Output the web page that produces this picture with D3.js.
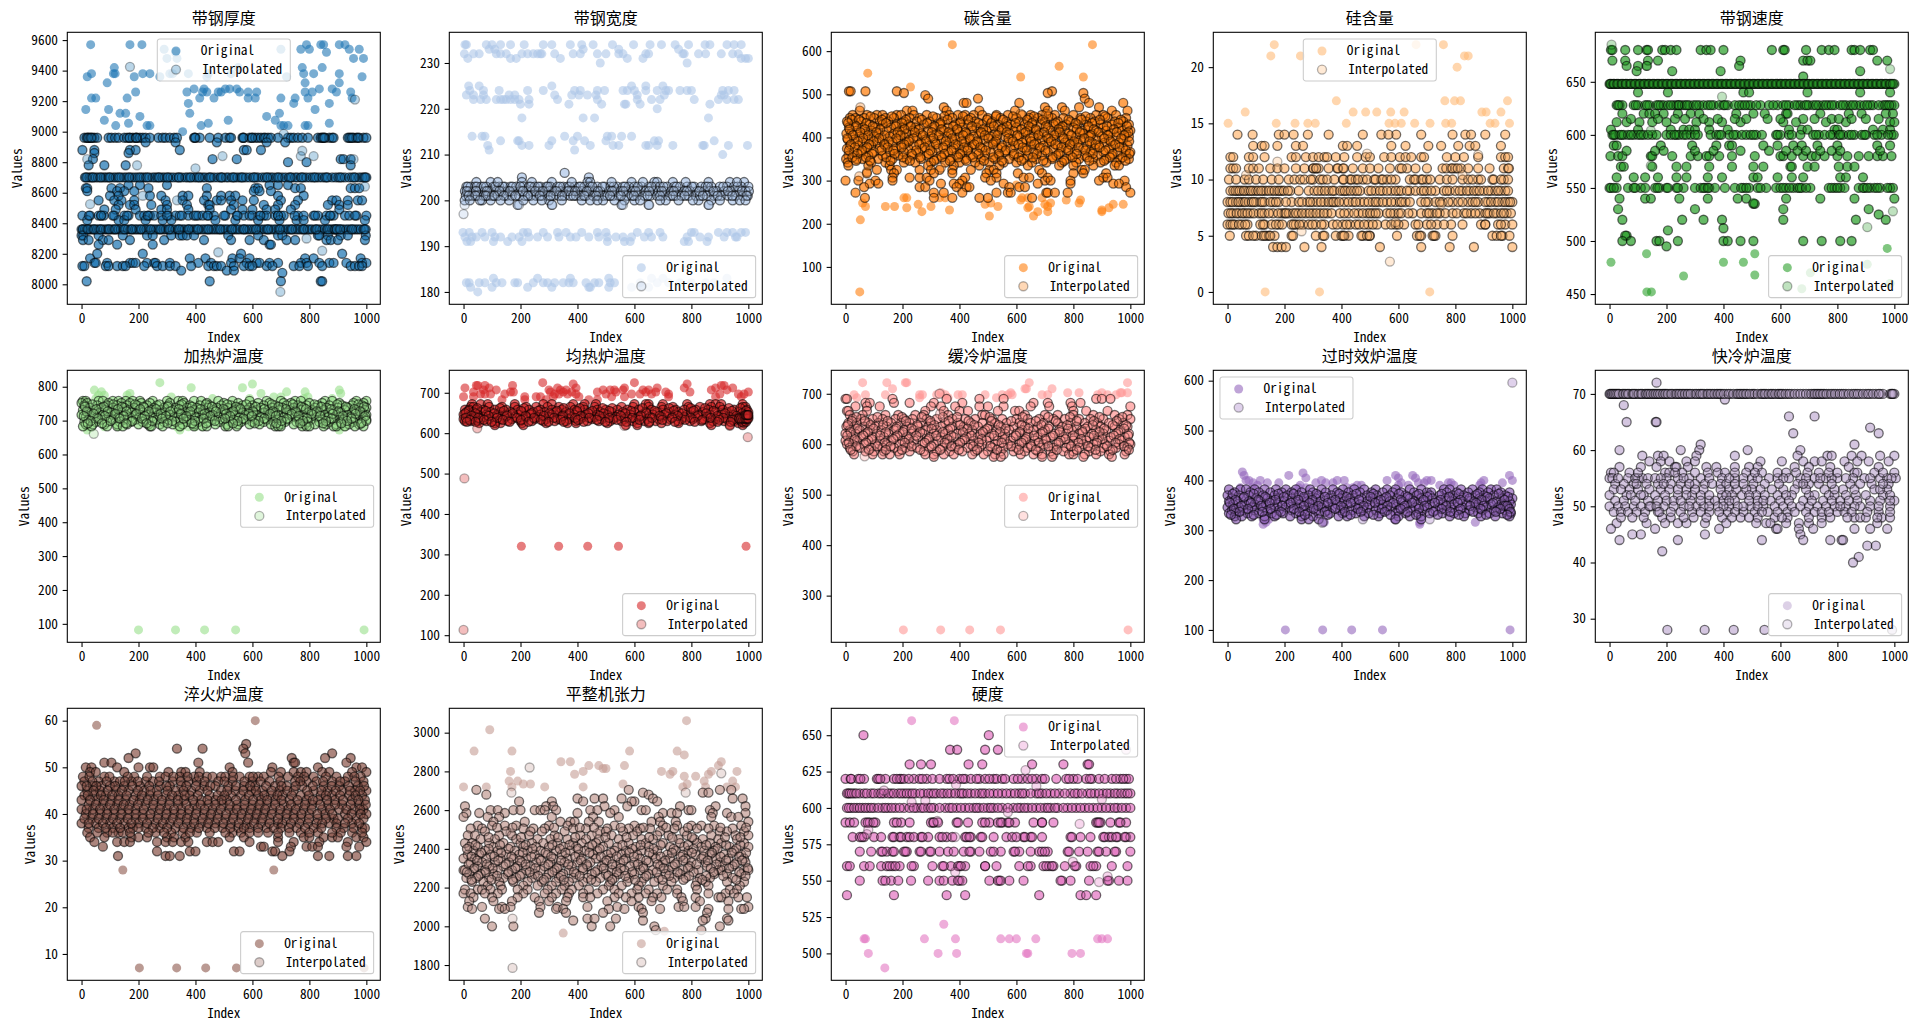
<!DOCTYPE html>
<html><head><meta charset="utf-8">
<script src="https://cdn.jsdelivr.net/npm/d3@7/dist/d3.min.js"></script>
<style>html,body{margin:0;background:#fff}svg{display:block}</style></head><body>
<svg id="chart" width="1923" height="1027"></svg>
<script>
const titles=["带钢厚度","带钢宽度","碳含量","硅含量","带钢速度","加热炉温度","均热炉温度","缓冷炉温度","过时效炉温度","快冷炉温度","淬火炉温度","平整机张力","硬度"];
const colors=["#1f77b4","#aec7e8","#ff7f0e","#ffbb78","#2ca02c","#98df8a","#d62728","#ff9896","#9467bd","#c5b0d5","#8c564b","#c49c94","#e377c2"];
const xTicks=[0,200,400,600,800,1000];
const yTicks=[[8000,8200,8400,8600,8800,9000,9200,9400,9600],[180,190,200,210,220,230],[100,200,300,400,500,600],[0,5,10,15,20],[450,500,550,600,650],[100,200,300,400,500,600,700,800],[100,200,300,400,500,600,700],[300,400,500,600,700],[100,200,300,400,500,600],[30,40,50,60,70],[10,20,30,40,50,60],[1800,2000,2200,2400,2600,2800,3000],[500,525,550,575,600,625,650]];
const legendPlaces=["upper center","lower right","lower right","upper center","lower right","center right","lower right","center right","upper left","lower right","lower right","lower right","upper right"];

// rows: [value,[indices]]
const thickOrig=[[9570,[32,170,212,905,925,790,840,850]],[9540,[290,700,770,800,940,975]],[9520,[860,330]],[9480,[300,335,955,990]],[9420,[115,550,775,845]],[9380,[35,112,118,215,240,310,320,375,445,525,780,815,905]],[9360,[20,185,275,440,720,985]],[9320,[90,785,905]],[9280,[395,430,505,520,545,835,880]],[9260,[190,370,425,440,480,490,555,585,615,785,810,895,945]],[9220,[35,50,160,415,465,585,610,700,750,795,950]],[9185,[375,745,870]],[9145,[15,95,820]],[9120,[135,155,380,695]],[9100,[205,650]],[9075,[80,515,680]],[9055,[165,445,870]],[9040,[120,230,240,420,700,710,725,785,795]],[9000,[355]]];
const thickBoth=[[8960,[10,18,25,30,38,45,55,95,105,118,130,150,160,170,180,190,195,205,215,225,240,270,285,295,310,325,335,395,400,415,450,480,505,520,525,565,570,590,600,610,620,630,640,645,655,665,690,725,735,745,760,775,795,830,840,845,855,870,880,885,935,945,955,965,975,990,1000]],[8930,[225,330,475,650,715]],[8880,[3,45,170,190,345,570,580,630]],[8860,[45,165]],[8820,[40,460,545,910,920,945]],[8780,[25,80,155,945]],[8800,[725,790]],[8700,[12,20,28,34,42,50,58,70,78,85,93,102,112,120,128,140,150,158,170,178,188,197,210,218,226,238,250,258,266,275,284,292,304,312,322,334,344,352,365,373,385,396,405,416,425,434,446,456,466,478,488,496,508,516,528,538,548,558,568,578,590,602,612,620,634,644,655,664,672,684,695,705,716,728,738,750,758,770,780,790,802,812,824,834,845,855,865,880,892,902,914,925,940,950,962,975,985,992,1000]],[8650,[165,205,300,660,690,725]],[8630,[15,20,105,135,235,440,610,620,750,770,945,960,975]],[8610,[20,150,185,125,605,625,665]],[8580,[100,130,240,280,355,375,440,490,520,540,690,780]],[8550,[60,115,140,185,295,355,430,475,490,525,565,605,700,760,880,895,935,970,985]],[8520,[130,170,185,245,300,370,445,450,535,640,690,750,865,905,935]],[8490,[80,120,190,280,300,375,450,525,565,600,650,680,735,905]],[8450,[3,30,60,70,78,115,150,165,205,220,235,240,255,280,305,330,345,375,395,410,425,445,465,505,545,570,590,600,625,640,650,680,690,700,710,760,780,815,830,860,875,885,925,940,965,1000]],[8420,[20,130,150,225,285,315,470,540,620,695,755,780,855,995]],[8360,[0,6,12,18,26,32,40,48,55,62,70,78,86,92,100,108,114,122,130,138,146,155,163,172,180,188,194,202,212,220,228,236,246,254,262,270,280,288,296,304,312,320,330,338,346,354,362,372,380,388,396,404,412,422,430,438,448,456,464,472,480,490,498,506,514,524,532,540,548,556,566,574,582,590,598,606,616,624,632,642,650,658,666,676,684,692,700,708,718,726,734,742,752,760,768,776,784,794,802,810,820,828,836,846,854,862,872,880,886,892,898,904,912,920,930,938,946,956,964,972,980,990,998]],[8320,[0,6,60,145,230,250,315,345,355,370,395,515,620,690,705,830,835,865,910,935,998]],[8290,[5,25,75,95,170,290,430,525,590,640,720,750,860,875,900,995]],[8260,[60,125,250,660,665]],[8200,[55,215,560,915]],[8170,[30,380,435,530,555,590,785,815,980]],[8140,[45,50,90,170,180,190,230,255,260,310,410,455,525,580,615,625,660,690,770,790,835,870,885,930,985,1000]],[8120,[3,10,85,95,125,145,155,220,265,285,310,330,385,445,465,475,490,535,570,590,600,650,670,745,765,795,845,945,960,975,985]],[8090,[350,510,535]],[8075,[705]],[8020,[18,450,700,840,845]]];
const thickExtra=[[8700,[16,39,66,98,133,166,204,231,271,301,341,381,412,451,491,533,563,606,651,690,733,774,818,860,908,957,996]],[8360,[4,22,44,67,96,118,151,176,208,242,276,308,342,376,408,444,486,528,570,612,654,696,738,780,824,866,890,896,908,950,994]],[8450,[26,68,110,160,232,300,352,402,442,500,548,628,690,748,820,872,960]],[8960,[22,34,168,192,398,568,598,848,852,940,950,970]]];
const thickInterp=[[9425,[170]],[8875,[775]],[8840,[495,770,815]],[8820,[20,955]],[8780,[195]],[8760,[400]],[8580,[215]],[8550,[335]],[8525,[30]],[8640,[995]],[8300,[790]],[8220,[845]],[8210,[480]],[7950,[698]],[9210,[960]],[8985,[710]]];

const widthOrig=[[234,[10,5,80,100,130,165,213,280,310,375,415,455,523,597,655,695,743,790,848,865,925,950,975]],[233,[90,110,420,545,755]],[232,[3,35,55,115,130,150,205,225,245,260,270,275,320,385,410,470,500,545,560,640,650,770,775,825,850,905,945,965]],[231,[15,165,185,340,575,630,975,990,1000]],[230,[480,785]],[225,[18,55,310,640,590,700]],[224,[22,70,125,225,280,390,410,470,495,560,575,600,640,680,710,720,760,785,800,910,930,950]],[223,[10,35,70,160,180,320,380,405,435,465,610,705,905,915]],[222,[35,60,80,115,130,140,150,165,180,195,230,330,470,610,660,690,810,895,925,950,965]],[221,[200,230,370,485,565,570,620,865]],[220,[680]],[218,[205,420,460,860]],[214,[30,65,75,355,400,505,520,555,590]],[213,[130,190,195,310,385,425,500,670,685,880]],[212,[85,205,230,300,445,525,545,640,650,680,735,840,845,930,997]],[211,[90,390]],[210,[910]],[193,[-2,20,65,100,210,225,280,330,360,415,470,500,610,650,690,800,810,895,990,975,945,925]],[192,[5,30,45,75,110,130,170,195,230,260,295,335,375,395,440,475,505,535,560,590,635,660,700,785,830,860,915,955,960]],[191,[12,25,105,155,205,505,565,585,775,790,855]],[183,[105,260,375,510,660,700,925]],[182,[10,20,55,75,115,135,180,190,245,280,295,320,350,370,385,430,460,475,515,530,620,680,720,760,800,850,880]],[181,[25,100,225,310,440,445,510,590,650]],[180,[50]]];
const widthBoth=[[206,[355]],[205,[205,440]],[204,[45,95,205,240,310,435,445,590,670,680,735,860,935,985]],[203,[10,25,40,62,80,105,125,145,165,185,210,230,250,270,290,305,330,350,365,390,405,425,445,470,495,515,540,560,580,600,625,650,675,690,715,740,760,785,810,835,850,870,900,925,950,975,1000]],[202,[5,20,35,55,75,90,115,135,155,175,200,220,240,265,285,300,320,340,360,380,400,415,440,460,480,510,530,550,570,595,615,640,665,685,705,730,750,775,795,820,845,865,890,915,940,965,990]],[201,[8,30,50,70,85,100,120,150,170,195,215,235,255,275,295,315,335,355,375,395,410,430,455,475,490,505,525,545,575,590,610,635,655,680,700,725,745,765,790,815,830,855,880,905,930,955,980,998]],[200,[4,65,95,160,245,300,415,490,530,565,600,710,825,870,945]],[199,[190,310,555,650,860]]];
const widthExtra=[[203,[15,47,71,112,138,172,199,236,262,296,339,372,411,452,488,527,567,612,660,702,748,802,858,912,962]],[202,[12,44,82,126,162,208,252,278,326,368,392,433,472,522,560,604,652,696,738,784,828,878,928,978,1002]],[201,[18,42,78,108,142,182,226,268,306,346,386,424,466,514,552,598,646,690,736,776,840,892,944,994]],[200,[22,58,130,210,275,345,445,470,620,690,755,805,900,970,990]],[204,[120,380,520,630,780,960]]];
const widthInterp=[[197,[0]],[199,[4,195,312,560,652,862]]];

const carbonOrig=[[615,[375,867]],[565,[750]],[549,[78]],[540,[615,835]],[517,[228]],[290,[600]],[260,[205,215,330,350,620,640,690]],[255,[615,775,825]],[248,[60,510,720,820]],[245,[255,490,700,940,975]],[240,[70,140,172,300,535,645,710]],[237,[215,640,925]],[232,[365,900]],[228,[268,675,710,900]],[218,[505,660]],[209,[52]],[42,[50]]];
const carbonBoth=[[507,[12,18,70,180,725]],[503,[205,710,835]],[498,[280]],[490,[290,465,840]],[480,[415,425,610,855,975]],[470,[345,700,760,890,820]],[462,[50,215,235,355,470,595,710,770,935,990]],[452,[25,75,110,130,180,195,240,285,365,395,420,450,480,530,570,620,650,690,735,800,880,905,950]],[445,[15,35,65,100,140,170,225,260,320,375,440,500,545,600,645,675,725,765,825,860,920,985]],[437,[5,55,120,150,205,250,295,340,405,455,515,565,610,660,700,745,790,845,875,945,975]],[430,[30,85,130,180,220,275,330,385,430,480,535,580,630,685,730,775,815,895,935,995]],[423,[12,60,105,160,200,245,305,360,410,460,505,555,600,650,710,755,800,850,905,960]],[416,[40,90,145,190,235,290,345,395,445,495,540,590,640,670,720,770,830,880,915,970,1000]],[409,[3,20,70,115,170,215,265,320,370,425,470,525,575,625,680,740,785,835,865,930,985]],[402,[50,100,155,205,250,300,355,400,450,510,560,610,660,705,760,810,855,900,950,995]],[395,[8,30,80,130,185,225,280,335,385,435,485,530,585,635,690,730,780,825,880,925,975]],[388,[60,110,165,215,265,315,365,420,465,520,570,620,670,715,770,815,865,910,960]],[381,[15,45,90,140,195,240,295,350,395,445,500,550,595,650,695,745,795,850,890,940,990]],[374,[5,70,120,175,220,270,325,380,430,480,535,580,630,680,730,775,835,875,925,975]],[366,[30,55,100,155,205,255,305,360,410,460,510,560,615,660,710,755,805,860,905,955,1000]],[358,[10,80,130,185,235,285,335,390,440,490,540,590,640,690,740,790,840,885,935,985]],[350,[2,40,60,115,165,215,265,320,370,420,475,525,575,625,670,725,775,820,870,915,965,995]],[342,[8,90,140,205,245,300,350,400,455,505,555,600,655,705,760,810,895,950]],[335,[10,80,155,290,380,470,540,640,750,800,870,945,960]],[325,[110,160,180,260,300,330,375,440,505,520,680,830,840]],[317,[75,170,310,375,495,530,605,690,800,835,915]],[307,[165,225,260,285,420,490,530,625,645,710,905,920]],[300,[0,45,105,165,295,410,510,700,720,790,890,980]],[293,[85,115,335,380,400,555,675,790,940,960]],[285,[65,260,280,390,425,435,575,610,630,985]],[272,[35,310,345,410,530,570,580,705,710,735,780,1000]],[260,[68,310,375,470,500,655]]];
const carbonExtra=[[449,[88,162,307,347,412,528,588,662,712,843,912]],[441,[22,47,128,212,268,358,431,497,553,638,692,783,828,893,967]],[433,[9,73,142,198,287,333,402,467,512,597,655,738,808,866,958]],[426,[37,96,176,229,312,378,444,521,567,643,703,762,853,918,988]],[419,[14,68,122,207,258,337,392,483,548,617,668,748,812,872,942]],[412,[52,108,183,243,303,362,421,476,566,632,697,752,823,888,952,993]],[405,[26,79,137,193,272,328,413,489,533,603,677,733,792,861,922,979]],[398,[6,62,118,178,238,308,374,437,502,572,648,712,766,838,908,968]],[391,[43,98,152,222,283,352,408,462,527,588,652,722,803,857,931,996]],[384,[19,83,136,206,259,318,386,452,517,607,663,737,788,878,947]],[377,[33,76,148,197,278,343,417,473,548,622,683,758,818,892,962]],[370,[12,58,126,168,248,298,372,428,492,562,636,702,782,842,913,984]],[362,[42,93,172,232,292,347,403,467,538,592,672,748,812,868,938,997]],[354,[24,72,143,202,262,338,396,447,518,608,658,727,797,848,928,972]],[346,[37,86,158,226,311,366,424,486,549,618,694,768,856,908,983]]];
const carbonInterp=[[470,[52]],[320,[75]],[310,[48]],[330,[335]],[455,[705,615]]];

const siOrig=[[22,[164,662,758]],[21,[152,256,832,845]],[20,[806]],[17,[382,763,797,818,983]],[16,[62,441,485,524,573,620,893,908,960]],[15,[2,171,237,282,308,417,567,588,610,657,711,766,787,922,939,990]],[0,[132,323,710]]];
const siBoth=[[14,[35,88,180,200,232,282,355,475,592,540,565,680,790,835,855,905,975]],[13,[90,120,130,175,240,265,405,420,455,575,625,705,750,810,850,870,960]],[12,[10,20,75,90,130,225,240,275,300,320,340,350,380,410,455,485,500,550,575,605,625,645,680,690,770,800,830,880,960,975,985]],[11,[10,20,30,75,90,110,150,175,200,240,270,300,310,320,355,385,405,440,475,500,530,570,605,630,660,700,755,785,800,820,845,880,920,970,985]],[10,[5,30,60,75,100,125,155,180,215,235,255,270,300,325,335,350,375,405,430,450,475,490,515,540,560,590,640,655,680,700,745,770,790,825,845,880,890,930,970,985]],[9,[10,20,35,50,65,75,90,100,125,135,155,175,190,220,250,285,305,330,355,375,405,420,445,465,495,520,545,575,600,640,660,680,700,730,760,780,800,825,850,875,900,925,940,960,975]],[8,[0,10,30,45,55,75,100,115,130,160,180,225,250,280,300,315,340,365,380,410,440,465,480,510,530,560,590,605,625,680,705,730,755,790,810,845,860,880,915,940,965,985,1000]],[7,[3,20,40,60,80,110,130,160,190,200,215,230,250,275,300,325,350,395,425,460,490,510,530,560,585,600,650,680,720,745,765,790,830,855,885,905,920,945,980,995]],[6,[0,10,25,50,70,115,130,155,180,225,240,265,285,310,340,370,405,430,450,495,525,555,590,620,660,700,735,785,825,890,905,950,975,1000]],[5,[8,65,75,100,120,135,145,165,225,310,335,380,400,425,475,500,595,665,680,720,730,790,930,945,965,990]],[4,[160,175,190,205,270,330,535,680,780,865,1000]]];
const siExtra=[[11,[302,312,388,408,612,768,790,808,988]],[10,[292,408,435,458,520,545,575,660,685,712,860,935,960]],[9,[28,42,58,82,108,118,145,165,182,198,212,318,342,368,395,412,432,455,505,535,560,590,610,630,690,715,770,815,840,865,885,915,950,985]],[8,[18,38,62,85,92,122,150,170,205,262,290,328,355,372,392,425,450,495,520,545,575,612,640,695,745,775,825,870,905,925,950,975,992]],[7,[12,32,52,70,92,120,145,178,205,240,262,288,312,338,365,410,445,475,500,520,572,610,635,700,708,735,805,840,870,912,935,960,970]],[6,[18,40,62,125,170,192,232,252,298,330,385,418,462,480,510,575,600,670,715,760,905,960]],[5,[90,128,150,230,340,405,410,470,490,498,675,725,960]]];
const siInterp=[[2.7,[570]],[11.6,[175]],[5.4,[260]],[6.2,[590]],[12.2,[880]],[10.4,[65,825]],[12.3,[490]],[7.8,[750]]];

const speedOrig=[[493,[975]],[488,[130,510]],[480,[5,400,470]],[478,[905]],[470,[705]],[467,[260]],[468,[510]],[460,[985]],[455,[675]],[452,[131,147]]];
const speedBoth=[[680,[5,10,55,100,130,135,185,195,215,235,320,340,355,400,570,610,615,690,745,770,790,850,860,880,915,925]],[670,[10,55,135,170,460,680,695,705,940,975]],[665,[130,455,60,100]],[660,[95,220,390,880]],[655,[680]],[648,[0,6,12,18,25,32,40,48,55,62,70,78,86,94,102,110,118,126,134,142,150,158,166,174,182,190,198,206,214,222,230,238,246,254,262,270,278,286,294,302,310,318,326,334,342,350,358,366,374,382,390,398,406,414,422,430,438,446,454,462,470,478,486,494,502,510,518,526,534,542,550,558,566,574,582,590,598,606,614,622,630,638,646,654,662,670,678,686,694,702,710,718,726,734,742,750,758,766,774,782,790,798,806,814,822,830,838,846,854,862,870,878,886,894,902,910,918,926,934,942,950,958,966,974,982,990,1000]],[640,[100,205,470,490,695,880,985]],[628,[25,35,45,85,100,125,140,165,180,190,205,225,235,245,255,265,280,295,315,330,345,365,385,400,415,440,465,485,495,530,560,590,610,630,660,670,685,700,715,735,750,770,790,810,830,845,865,880,895,915,925,960,975,990,1000]],[620,[45,120,140,160,190,240,285,315,445,505,545,620,625,740,840,885,970,995]],[612,[25,60,105,150,200,305,350,395,460,610,655,760,830,985,1000]],[605,[5,100,215,260,280,300,350,415,630,675,695,790,800,925,960,985]],[600,[10,20,35,50,65,85,100,120,150,165,200,215,235,245,260,285,310,355,375,385,420,445,465,480,495,515,535,585,600,630,670,715,735,755,785,805,820,840,860,885,900,930,955,990,998]],[590,[15,25,180,290,375,420,430,540,590,645,675,730,800,940,985]],[580,[3,30,45,145,150,220,285,310,340,350,385,430,510,600,610,640,680,710,725,755,800,835,875,910,940,960,990]],[570,[40,50,150,235,270,350,430,505,540,635,640,695,720,805,835,860]],[560,[25,85,125,170,235,270,345,395,505,520,590,640,680,810,830,890]],[550,[0,5,25,65,85,110,125,160,175,200,205,235,260,300,320,335,350,370,405,440,470,490,520,550,585,600,620,645,660,675,705,770,790,810,825,875,895,915,930,950,985,995]],[540,[35,125,145,245,345,450,480,620,740,860,1000]],[535,[505,510]],[530,[30,300,610,910]],[525,[945]],[520,[45,255,330,395,610,865,970]],[512,[400]],[505,[60,55]],[500,[45,75,165,175,240,400,415,460,505,680,745,810,850]],[510,[205]],[495,[200]]];
const speedExtra=[[648,[3,15,28,44,58,74,90,106,122,138,154,170,186,202,218,234,250,266,282,298,314,330,346,362,378,394,410,426,442,458,474,490,506,522,538,554,570,586,602,618,634,650,666,682,698,714,730,746,762,778,794,810,826,842,858,874,890,906,922,938,954,970,986,995]],[628,[30,92,132,172,215,242,272,305,355,405,455,475,515,575,620,650,692,725,760,780,820,855,905,945,968,982]],[600,[15,42,75,110,135,228,270,300,392,435,505,590,640,725,775,810,850,895,940,978]],[550,[15,90,168,240,330,345,462,480,530,610,632,668,690,780,800,890,905,940,975]],[585,[60,160,190,300,365,460,560,620,660,690,740,780,810,950]],[615,[75,170,230,265,330,380,440,480,555,600,680,720,780,805,850,900,945]]];
const speedInterp=[[685,[7]],[662,[985]],[665,[132]],[636,[395]],[604,[145]],[571,[145]],[536,[505]],[528,[995]],[513,[905]]];

const heatOrig=[[812,[275]],[808,[600]],[797,[385,565]],[790,[45,905]],[785,[70,720,785]],[780,[170,630,910]],[775,[60,160,80]],[770,[315,675,700,795]],[765,[50,460,590,780,880]],[682,[20,80,130,335,345,350,375,400,425,905,925]],[672,[20,345,905]],[82,[200,330,432,541,992]]];
const heatBoth=[[758,[5,15,60,75,110,130,155,180,205,250,300,340,355,395,420,480,530,590,650,700,750,770,855,880,965,1000]],[752,[0,20,95,140,170,210,240,310,360,440,500,550,620,660,710,735,800,845,905,955,990]],[745,[10,55,90,125,160,195,230,265,305,345,380,415,450,490,525,565,600,640,680,720,760,790,830,870,915,950,985]],[738,[30,70,110,150,185,220,255,290,330,370,405,445,475,515,555,590,630,670,705,745,780,820,860,900,935,975,1000]],[731,[5,45,85,120,165,200,245,280,320,355,395,430,465,505,540,580,615,655,695,730,770,810,850,885,925,965,995]],[724,[20,65,105,140,175,215,255,295,335,375,410,450,490,525,565,605,640,680,720,755,795,835,870,910,950,985]],[717,[0,35,75,115,155,190,230,270,310,350,385,425,460,500,540,575,615,655,690,730,775,815,855,895,935,970,1000]],[710,[15,55,95,130,170,205,245,285,325,365,400,440,480,515,555,595,630,665,710,750,785,825,865,905,945,990]],[703,[25,70,110,150,190,225,265,305,345,380,420,460,495,535,575,610,650,690,725,765,805,845,885,920,960,1000]],[696,[10,50,90,135,175,215,250,290,330,370,410,445,485,525,560,600,640,675,715,755,795,835,870,910,955,985]],[689,[15,40,80,125,160,200,235,275,320,355,395,470,510,550,590,625,665,700,745,785,820,860,895,940,975]],[683,[5,35,90,125,145,240,245,285,345,395,425,440,505,515,545,680,690,700,775,790,800,850,885,895,925,960,990]]];
const heatExtra=[[748,[38,112,188,274,352,437,512,578,668,742,818,898,972]],[741,[12,78,142,218,302,388,458,542,612,692,772,842,928,992]],[734,[52,128,206,262,342,418,498,558,642,718,788,876,958]],[727,[18,92,158,236,312,382,472,532,602,672,752,826,902,978]],[720,[42,118,192,278,348,432,508,588,662,738,808,882,962]],[713,[8,82,148,222,296,368,452,522,598,682,762,838,918,996]],[706,[58,134,212,282,358,428,504,568,642,722,792,878,948]],[699,[32,102,178,248,318,398,468,548,622,702,778,858,932,1000]],[692,[22,72,156,228,302,388,438,532,608,684,768,848,912,982]]];
const heatInterp=[[661,[43]]];

const soakOrig=[[725,[278,600]],[722,[385,785]],[718,[45,50,75,172,905,915]],[712,[5,90,330,395,565,680,775,885,945]],[707,[70,115,300,340,360,490,515,530,560,630,650,925,870]],[702,[35,165,175,305,350,380,470,535,640,675,710,795,1000]],[697,[60,75,95,145,320,335,365,395,500,590,620,660,720,900,965,985]],[690,[0,35,215,255,270,315,405,520,565,720,885,975]],[683,[215,135,290,440,470]],[320,[203,334,436,544,992]]];
const soakBoth=[[672,[30,60,85,180,280,310,385,425,465,600,640,650,700,785,865,885,905,980]],[665,[25,35,90,135,180,220,255,295,335,375,420,460,555,595,650,695,735,790,830,870,900,980,990]],[658,[5,20,45,70,110,150,190,230,270,310,345,390,425,470,500,540,575,615,660,700,745,775,815,860,910,950,995]],[652,[10,35,60,95,130,165,205,245,285,325,360,400,445,480,520,560,600,640,680,720,755,800,840,885,925,965,1000]],[646,[0,25,50,80,120,155,195,235,270,310,350,390,430,470,505,545,585,625,665,705,745,785,825,865,905,945,985]],[640,[15,40,70,105,145,180,220,260,300,340,380,420,460,495,535,575,615,655,695,735,775,815,855,895,935,975,1000]],[635,[0,30,60,90,130,170,210,250,290,330,370,410,450,485,525,565,605,645,685,725,765,805,845,885,925,960,990]],[630,[5,25,50,80,115,155,200,240,280,320,360,395,435,475,515,555,595,635,675,715,755,795,835,875,915,950,985]],[625,[55,110,130,205,290,365,395,505,610,650,695,755,865,965,985]],[620,[110,210,570,610,870,935,980]]];
const soakExtra=[[662,[48,128,212,352,408,488,522,628,722,798,848,932,972]],[655,[18,78,142,202,262,328,398,452,512,588,672,738,808,878,942,992]],[649,[6,42,108,172,238,302,372,438,492,568,642,712,768,852,918,978]],[643,[28,88,152,218,282,348,412,478,552,622,688,752,822,892,958,996]],[638,[8,52,118,188,248,318,392,442,512,592,662,732,798,868,912,968]],[633,[22,72,138,202,272,342,402,468,538,618,698,778,838,898,945,972,995]],[628,[12,42,98,162,228,298,352,422,498,572,652,742,812,892,938,978,992]],[636,[968,975,982,988,992,996,1000]],[645,[990,994,998,1000]]];
const soakInterp=[[590,[998]],[488,[3]],[113,[0]],[612,[48]],[618,[565,935]]];

const slowOrig=[[722,[60,145,210,215,645,990]],[710,[165,635,725,630]],[702,[900,780,820,580,970,990,335,965]],[698,[30,70,140,260,270,320,350,395,410,490,550,570,585,690,710,885,920,950]],[692,[40,260,360,530]],[232,[203,334,436,544,992]]];
const slowBoth=[[690,[0,5,165,355,470,555,880,900,930]],[682,[70,85,170,225,310,410,660,710,790,825]],[675,[35,75,120,300,335,385,470,500,555,650,715,795,1000]],[666,[5,10,75,280,345,400,430,535,595,610,800,845,920]],[658,[15,60,140,185,245,275,360,480,490,630,700,745,800,870,945,990]],[650,[25,55,95,130,175,205,235,285,320,375,420,455,515,550,600,640,680,730,770,820,860,905,960,1000]],[642,[10,40,80,115,160,195,225,265,300,350,395,440,480,525,565,610,650,695,745,790,840,885,925,975]],[635,[3,30,65,105,145,180,215,255,290,335,375,415,465,505,545,590,630,675,715,760,810,850,895,945,990]],[628,[15,50,85,125,170,205,240,280,320,360,405,445,490,530,575,620,660,700,750,795,830,880,915,965]],[621,[0,35,70,110,150,190,230,270,310,350,390,435,475,515,560,600,640,685,735,775,820,865,905,950,995]],[614,[20,55,95,135,175,215,255,295,335,380,425,465,505,550,590,635,675,720,765,805,855,890,930,980]],[607,[0,40,80,120,160,200,240,285,325,365,410,450,495,535,580,625,665,705,755,800,845,885,925,970]],[600,[5,25,65,105,145,190,225,270,310,355,395,440,480,525,570,610,650,695,740,785,835,870,910,960,1000]],[593,[15,50,90,130,170,210,250,295,340,385,430,470,515,555,600,640,685,730,775,820,860,905,950,990]],[586,[25,70,100,135,185,225,275,320,365,410,455,500,545,590,630,675,720,765,800,855,895,930,985]],[580,[30,95,130,155,190,280,310,345,380,445,485,525,555,615,660,690,730,785,800,840,880,925,980]],[575,[310,520,545,690,725,835,935]]];
const slowExtra=[[654,[38,112,198,268,342,392,506,622,712,788,892,972]],[646,[22,68,148,212,298,362,432,512,582,668,738,812,872,952]],[638,[8,88,132,252,312,402,452,538,618,688,778,868,938,985]],[631,[42,98,178,232,302,368,428,498,562,642,712,782,842,908,978]],[624,[18,78,142,202,262,342,412,482,542,612,692,752,832,892,958]],[617,[6,62,122,182,248,318,372,442,522,598,662,728,798,872,942,992]],[610,[32,92,168,222,292,358,418,478,558,632,702,772,828,902,962]],[603,[12,72,138,208,278,348,402,468,548,618,678,748,818,882,948,996]],[596,[38,112,158,232,302,372,448,508,582,652,712,792,852,918,978]],[589,[18,82,142,198,262,332,398,462,532,608,668,742,812,878,938,995]]];
const slowInterp=[[576,[67]],[660,[332]],[700,[330]]];

const agingOrig=[[417,[52]],[415,[265]],[410,[58,215,590,650,990]],[405,[600,660,275]],[400,[65,75,115,330,385,410,560,700,715,1000,900]],[395,[90,140,180,310,345,370,610,670,690,775,785,890,965]],[390,[105,255,470,455,600,635,745,795,885]],[385,[45,85,250,275,420,440]],[322,[125,145,585]],[316,[135,340,870,675]],[312,[675,125]],[100,[203,334,436,544,992]]];
const agingBoth=[[382,[5,45,65,95,130,170,205,240,290,330,370,405,445,480,520,560,590,640,680,760,780,820,860,895,925,945]],[376,[25,80,110,150,190,225,260,300,345,385,425,465,505,545,580,610,655,700,715,770,805,845,885,915,960,990]],[370,[0,40,75,125,165,210,250,285,320,365,405,440,490,525,570,625,665,710,745,790,830,870,900,935,975]],[364,[15,55,100,140,180,225,270,310,355,395,430,470,510,550,595,640,680,720,765,800,850,885,920,965,1000]],[358,[5,35,75,115,155,200,240,280,325,365,410,445,490,530,570,615,655,695,740,785,825,865,905,945,990]],[352,[20,60,95,135,175,215,255,300,340,385,420,465,500,545,590,630,670,710,755,795,840,880,925,960,995]],[346,[0,40,85,125,165,205,245,290,330,370,405,450,490,530,575,615,660,700,745,785,825,870,910,950,985]],[340,[15,55,95,140,180,225,265,310,350,395,435,475,520,560,600,645,685,730,770,810,850,895,935,975]],[334,[5,30,70,110,155,195,240,280,320,360,405,450,495,535,590,625,670,710,755,795,835,880,920,965,995]],[328,[25,50,85,130,165,220,260,300,390,420,480,530,600,640,680,780,830,890,940,990]],[322,[30,130,260,285,320,590,680]]];
const agingExtra=[[373,[18,92,178,232,312,392,452,512,602,672,752,812,878,952]],[367,[58,132,198,268,342,418,502,558,632,702,778,842,912,985]],[361,[28,108,168,248,298,378,462,538,608,688,748,818,892,972]],[355,[8,82,148,222,288,352,432,518,582,648,728,808,872,932]],[349,[48,118,192,268,318,398,478,562,622,692,768,852,898,968,975,982]],[343,[22,72,152,232,302,378,458,542,608,672,752,818,888,958,990]],[337,[42,122,188,252,342,412,468,552,632,722,782,862,942,994]],[331,[12,92,172,272,352,432,512,572,662,738,812,908,982]]];
const agingInterp=[[596,[1000]],[317,[335]],[322,[475,590,710]],[315,[333]]];

const quickOrig=[];
const quickBoth=[[72,[165]],[70,[0,6,12,18,24,30,36,44,52,62,70,78,90,96,108,116,124,132,140,150,158,166,174,184,192,200,212,222,230,240,250,260,270,280,292,300,312,322,332,340,350,362,375,385,395,410,425,445,455,465,475,485,500,505,510,530,540,550,565,575,590,600,610,625,640,660,680,700,715,725,735,745,755,770,785,800,815,830,850,865,880,900,915,935,950,960,985,992,1000]],[69,[405]],[68,[50]],[66,[630,720]],[65,[60,162,165]],[64,[915]],[63,[645,945]],[61,[320,860]],[60,[35,250,315,485,670]],[59,[115,170,190,305,440,660,765,780,850,885,950,1000]],[58,[140,180,210,270,300,530,605,680,720,745,825,870,910,980]],[57,[35,110,165,230,235,275,340,375,440,490,520,650,700,775,840,945]],[56,[5,15,70,195,210,255,345,380,405,480,535,620,695,735,860,870,930,1000]],[55,[0,10,65,100,115,135,160,200,240,280,320,395,440,470,500,560,590,630,670,720,760,800,855,895,950,975,1005]],[54,[20,50,85,130,170,215,250,300,335,390,410,505,545,660,700,735,845,920,980]],[53,[15,70,140,180,210,270,330,420,445,500,530,610,650,755,820,930,975]],[52,[0,60,75,120,195,240,290,320,395,430,465,515,590,640,700,770,790,865,960,985]],[51,[20,50,135,200,225,285,350,370,400,440,520,565,600,680,750,810,870,915,950,1000]],[50,[0,30,55,85,110,145,190,225,260,305,330,380,420,450,495,540,580,610,700,730,790,830,880,915,985]],[49,[15,40,65,95,125,170,250,290,350,415,470,510,555,625,690,720,800,825,945]],[48,[80,185,215,295,395,460,520,580,625,745,775,860,880,900,955,985]],[47,[25,130,195,240,270,335,410,515,550,565,620,665,700,745,940]],[46,[5,160,385,585,590,665,715,860,915,975]],[45,[80,110,335,670]],[44,[35,240,535,680,775,815,820]],[43,[905,935]],[42,[185]],[41,[875]],[40,[855]],[28,[203,334,436,544,992]]];
const quickExtra=[[70,[3,9,15,21,27,33,48,57,66,82,86,102,112,128,136,145,154,162,170,178,188,196,205,217,235,245,255,265,275,285,305,318,327,345,356,368,380,390,402,418,435,450,460,470,480,492,520,535,545,558,570,582,595,605,618,632,650,670,690,708,720,730,740,750,762,778,792,808,822,840,858,872,890,908,925,945,990,995]],[55,[30,90,180,260,350,420,520,610,690,740,780,830,915,990]],[53,[40,100,240,300,390,480,570,690,790,860,950]],[52,[110,160,270,350,410,490,545,620,720,830,900]],[51,[90,170,250,320,420,490,540,630,710,780,840,985]],[50,[140,165,280,350,400,470,520,640,670,760,810,860,945]],[49,[175,215,320,385,440,535,590,650,745,770,850,905,985]],[54,[95,190,280,360,440,470,595,680,780,880,960]],[48,[40,120,260,340,430,490,605,700,835,940]],[56,[100,230,300,440,510,590,655,770,800,960]]];
const quickInterp=[];

const quenchOrig=[[60,[610]],[59,[53]],[28,[145,675]],[7,[203,334,436,544,992]]];
const quenchBoth=[[55,[578]],[54,[335,425,568]],[53,[190,880,575]],[52,[165,738,855,945]],[51,[80,105,410,585,745,750,930]],[50,[15,35,125,200,240,252,520,670,830,965,985]],[49,[30,50,150,305,350,365,415,530,665,700,745,770,790,845,870,950,1000]],[48,[5,80,185,275,295,345,395,440,460,490,505,555,590,620,640,725,760,815,895,935,980]],[47,[10,60,115,135,175,225,250,320,375,405,480,530,600,660,750,790,825,880,925,990]],[46,[0,40,70,100,150,205,275,310,350,430,470,515,570,610,680,720,775,850,905,970]],[45,[20,65,120,165,220,265,330,385,415,490,540,595,635,695,745,815,865,915,960,1000]],[44,[10,45,85,130,190,240,295,340,380,450,525,560,620,665,705,770,840,880,940,985]],[43,[0,55,105,155,205,255,310,360,420,470,510,575,630,680,730,790,830,890,950,995]],[42,[25,75,125,170,225,280,340,395,445,495,545,600,650,710,760,810,865,915,975]],[41,[0,40,90,140,190,250,300,350,405,460,520,570,620,670,725,780,845,905,955,990]],[40,[15,65,115,165,215,270,325,375,430,480,535,590,640,695,745,800,855,925,1000]],[39,[35,85,135,190,240,295,345,395,450,505,560,610,660,720,770,830,885,900,965]],[38,[0,50,100,150,200,260,310,370,420,470,525,580,630,690,705,765,795,825,870,950]],[37,[25,60,110,165,180,225,275,330,385,440,495,550,590,650,700,755,815,920,985,995]],[36,[20,90,130,145,260,315,355,405,530,560,655,770,830,950]],[35,[30,80,175,200,230,300,325,365,520,570,690,780,800,850,880,900,965,990]],[34,[45,125,150,170,265,295,320,350,375,440,460,480,590,690,745,835,935,1000]],[33,[75,630,640,735,790,810,830,930,975]],[32,[265,380,400,535,555,670,680,730]],[31,[128,295,310,345,705,830,870,935,965]]];
const quenchExtra=[[48,[28,98,162,230,322,372,412,532,602,692,782,858,958]],[47,[38,88,152,198,272,348,432,502,572,628,698,768,848,908,962]],[46,[18,52,118,178,238,298,368,402,452,542,592,648,702,752,812,878,938,992]],[45,[42,92,142,198,242,302,358,442,512,568,612,668,722,792,842,892,942,978]],[44,[22,68,108,158,212,268,318,362,408,478,502,588,642,688,738,798,858,908,962]],[43,[30,78,130,182,232,282,338,392,442,492,542,602,652,702,758,812,862,918,972]],[42,[50,100,148,198,252,308,368,418,470,520,572,625,680,735,785,838,890,945,998]],[41,[18,65,115,165,218,275,325,378,432,488,545,595,645,698,752,808,872,930,978]],[40,[40,90,140,190,242,298,350,402,455,508,562,615,668,720,772,828,880,948,980]],[39,[10,60,110,162,215,268,320,370,425,478,532,585,635,690,745,798,858,935,990]],[38,[25,75,125,175,230,285,340,395,445,498,552,605,660,735,845,895,925,975]],[37,[85,135,200,250,300,358,412,468,522,570,620,675,728,785,842,895,955]],[36,[55,110,170,235,290,380,450,505,590,620,690,730,800,880,910,985]]];
const quenchInterp=[];

const tensionOrig=[[3062,[783]],[3015,[92]],[2905,[37,170,583,750]],[2885,[775]],[2850,[342,375,905]],[2830,[440,475,565,895]],[2815,[490,500]],[2800,[165,420,695,735,870,960]],[2785,[390,725,860]],[2775,[775,815]],[2750,[160,190,845,945]],[2735,[210,235,560,785]],[2720,[0,80,170,285,420,770,850,925,955]],[1965,[350]],[1975,[705]]];
const tensionBoth=[[2705,[45,580,900,940]],[2690,[630,840,860]],[2680,[80,650]],[2660,[400,460,490,555,665,945,980]],[2645,[195,310,420,600,680,590]],[2620,[5,290,315,495,575,760,885,990]],[2600,[95,120,175,200,250,270,285,325,445,470,530,625,640,790,800,865]],[2585,[10,55,145,400,515,700,730,750,875,925,990]],[2565,[0,85,125,310,455,545,685,870,940,965]],[2540,[105,215,340,375,390,440,475,660,690,745,1000]],[2520,[50,100,145,185,300,365,530,600,700,750,800,835,880,975]],[2505,[25,65,210,245,285,385,430,505,580,620,655,740,820,860,945]],[2490,[75,150,235,275,355,480,500,560,610,690,775,900,925,985]],[2470,[15,40,125,170,230,320,410,450,520,595,680,720,785,870,955,1000]],[2450,[60,110,185,260,305,365,430,475,545,625,665,755,810,840,895,960]],[2430,[5,30,90,140,200,240,280,330,385,415,465,510,580,640,700,760,820,865,905,985]],[2410,[20,50,105,165,210,255,300,350,395,440,490,540,605,650,725,775,835,885,935,1000]],[2390,[35,75,120,180,225,270,325,375,425,470,530,570,625,680,745,790,845,880,950]],[2370,[15,55,95,150,195,250,295,345,405,455,505,555,610,665,715,770,815,865,915,975]],[2350,[0,40,80,130,175,220,265,315,365,415,465,515,570,620,675,725,780,835,885,930,985]],[2330,[25,65,110,160,205,255,305,355,400,445,495,550,600,650,700,750,800,850,900,960,990]],[2310,[50,90,140,190,235,285,335,380,435,485,535,585,630,690,735,795,855,910,945]],[2290,[0,5,35,75,120,170,220,270,320,370,420,470,520,565,620,665,720,770,825,895,905,985,1000]],[2270,[20,60,105,155,205,250,300,350,395,450,500,545,600,650,710,760,880,925,975]],[2250,[10,45,90,140,185,240,290,335,385,435,480,530,580,635,685,740,780,830,865,945]],[2230,[30,70,125,175,225,275,325,370,420,465,515,575,625,670,730,820,850,925,985]],[2210,[85,130,210,260,310,355,405,510,555,615,700,815,860,970]],[2190,[5,50,65,95,135,190,225,295,345,380,440,490,530,610,650,715,750,820,935,960]],[2170,[0,25,75,120,210,285,325,370,420,470,545,590,640,680,750,860,920,950]],[2150,[35,100,190,250,310,365,420,445,530,570,615,665,695,765,815,895,905,965,995]],[2130,[20,105,170,265,300,360,505,590,660,770,830,930]],[2100,[15,65,165,135,270,330,435,540,615,755,775,815,1000]],[2090,[30,125,145,325,350,510,565,625,690,860,930,975,985]],[2070,[265,360,490,630,855]],[2040,[75,435,460,535,850,925]],[2030,[385,630,840,930]],[2000,[100,175,450,515,670,900]],[1980,[675,835]]];
const tensionExtra=[[2420,[42,128,218,312,372,452,558,622,692,788,852,922,972]],[2400,[12,88,158,242,338,402,478,592,668,738,808,892,958]],[2380,[62,132,208,288,358,442,518,582,652,732,802,872,942,992]],[2360,[28,108,168,238,308,392,482,538,598,692,762,842,902,968]],[2340,[48,122,198,272,342,412,502,562,642,708,772,858,922,978]],[2320,[18,82,148,218,298,368,432,522,612,682,742,818,888,952]],[2300,[38,102,182,252,328,418,492,552,632,702,788,868,932,998]],[2280,[12,78,158,232,312,388,462,538,592,678,752,808,878,968]],[2260,[52,118,198,262,342,408,508,568,642,722,792,852,912,990]],[2240,[28,98,172,282,352,448,522,602,698,772,838,958]],[2460,[88,202,332,392,498,572,652,732,802,918,972]],[2510,[118,172,318,408,458,552,632,712,788,902,992]]];
const tensionInterp=[[2820,[232]],[2690,[168,780]],[2790,[905]],[2040,[172]],[1785,[172]],[2450,[735]],[2480,[470,165]]];

const hardOrig=[[520,[345]],[510,[65,70,277,386,545,575,600,668,885,900,920]],[500,[80,325,390,635,640,795,825]],[490,[138]],[660,[232,382]]];
const hardBoth=[[650,[63,503]],[640,[367,392,490,535]],[630,[225,265,300,432,480,655,765,850,855]],[620,[0,18,20,45,65,110,115,140,170,190,195,205,240,260,285,305,355,365,400,420,440,470,490,520,530,550,590,620,640,670,690,740,775,800,815,845,865,890,935,965,985,995]],[610,[5,10,15,30,50,65,90,115,135,160,185,205,225,245,275,300,320,345,370,400,415,440,470,490,520,550,580,610,630,670,690,720,750,790,815,850,875,905,930,955,980,1000]],[600,[5,20,40,60,80,100,130,150,175,205,250,265,290,310,350,365,390,420,450,470,500,520,550,590,615,640,670,700,720,745,780,810,840,870,900,930,955,985]],[590,[0,15,30,70,85,105,170,195,225,300,310,325,390,430,480,505,535,550,570,595,660,690,730,880,895,930,960,985]],[580,[25,50,65,100,125,165,190,215,265,290,330,355,375,420,440,475,520,565,585,625,650,690,790,825,860,905,925,955,985,1000]],[570,[50,90,125,145,165,205,215,260,295,330,360,380,415,440,470,510,545,590,610,650,680,710,780,820,850,885,915,950,1000]],[560,[5,15,65,85,125,145,165,190,240,305,340,370,400,420,490,530,610,650,695,715,730,770,810,860,880,935,990]],[550,[50,130,160,185,230,290,330,345,375,400,505,540,575,625,760,790,855,925,960,990]],[540,[5,170,355,420,680,825,845,880]]];
const hardExtra=[[620,[52,122,180,222,270,330,378,412,460,505,560,605,655,700,785,858,910,950,975]],[610,[22,38,75,100,125,150,170,195,215,235,262,290,310,335,358,385,408,428,455,480,505,535,565,595,620,650,680,705,735,770,805,830,862,890,918,945,968,990]],[600,[12,30,50,70,90,115,140,162,190,225,240,275,300,330,375,405,435,460,485,510,535,570,605,628,655,685,710,735,765,795,825,855,885,915,945,970,1000]],[590,[78,98,180,308,395,490,545,575,690,885,890,965]],[580,[58,170,195,225,240,270,340,425,435,480,600,630,655,795,910,935,950,980]],[570,[130,170,210,265,300,435,520,595,690,700,785,890,945]],[560,[155,175,232,345,395,405,490,640,705,725,805,870]],[550,[140,395,410,535,545,755,920]]];
const hardInterp=[[640,[985]],[626,[632]],[616,[388]],[615,[670]],[612,[135]],[606,[900]],[604,[232]],[605,[280]],[597,[570]],[591,[322]],[589,[822]],[585,[80]],[582,[75]],[580,[385]],[563,[798]],[556,[385]],[553,[920]],[549,[890]]];

const seriesOrig=[thickOrig,widthOrig,carbonOrig,siOrig,speedOrig,heatOrig,soakOrig,slowOrig,agingOrig,quickOrig,quenchOrig,tensionOrig,hardOrig];
const seriesBoth=[thickBoth,widthBoth,carbonBoth,siBoth,speedBoth,heatBoth,soakBoth,slowBoth,agingBoth,quickBoth,quenchBoth,tensionBoth,hardBoth];
const seriesExtra=[thickExtra,widthExtra,carbonExtra,siExtra,speedExtra,heatExtra,soakExtra,slowExtra,agingExtra,quickExtra,quenchExtra,tensionExtra,hardExtra];
const seriesInterp=[thickInterp,widthInterp,carbonInterp,siInterp,speedInterp,heatInterp,soakInterp,slowInterp,agingInterp,quickInterp,quenchInterp,tensionInterp,hardInterp];

const MONO='"Noto Sans Mono CJK SC","Noto Sans CJK SC",monospace', CJK='"Noto Sans CJK SC",sans-serif';
const AW=313,AH=272,OX=67.3,OY=32.3,PX=382,PY=338,R=4.5,FS=13.33;
const expand=rows=>rows.flatMap(([v,idx])=>idx.map(i=>({x:i,y:v})));
const svg=d3.select("#chart");
titles.forEach((title,k)=>{
  const col=k%5,row=Math.floor(k/5),L=OX+col*PX,T=OY+row*PY;
  const both=[...expand(seriesBoth[k]),...expand(seriesExtra[k])],oOnly=expand(seriesOrig[k]),iOnly=expand(seriesInterp[k]);
  const origPts=[...oOnly,...both];
  const ext=d3.extent([...origPts,...iOnly],d=>d.y),pad=(ext[1]-ext[0])*.05;
  const x=d3.scaleLinear().domain([-50,1049]).range([0,AW]);
  const y=d3.scaleLinear().domain([ext[0]-pad,ext[1]+pad]).range([AH,0]);
  const g=svg.append("g").attr("transform",`translate(${L},${T})`);
  g.append("g").selectAll("circle").data(origPts).join("circle").attr("cx",d=>x(d.x)).attr("cy",d=>y(d.y)).attr("r",R).attr("fill",colors[k]).attr("fill-opacity",.6);
  [[both,.55],[iOnly,.3]].forEach(([pts,so])=>g.append("g").selectAll("circle").data(pts).join("circle").attr("cx",d=>x(d.x)).attr("cy",d=>y(d.y)).attr("r",R).attr("fill",colors[k]).attr("fill-opacity",.3).attr("stroke","#000").attr("stroke-width",1.33).attr("stroke-opacity",so));
  const ax=g.append("g").attr("transform",`translate(0,${AH})`).call(d3.axisBottom(x).tickValues(xTicks).tickFormat(d3.format("d")).tickSize(4.67).tickPadding(4.67));
  const ay=g.append("g").call(d3.axisLeft(y).tickValues(yTicks[k]).tickFormat(d3.format("d")).tickSize(4.67).tickPadding(4.67));
  [ax,ay].forEach(a=>{a.select(".domain").remove();a.selectAll("line").attr("stroke","#000").attr("stroke-width",1.07);a.selectAll("text").attr("font-family",MONO).attr("font-size",FS).attr("fill","#000");});
  g.append("rect").attr("width",AW).attr("height",AH).attr("fill","none").attr("stroke","#000").attr("stroke-width",1.07);
  g.append("text").attr("x",AW/2).attr("y",-8).attr("text-anchor","middle").attr("font-family",CJK).attr("font-size",16).attr("fill","#000").text(title);
  g.append("text").attr("x",AW/2).attr("y",AH+38).attr("text-anchor","middle").attr("font-family",MONO).attr("font-size",FS).attr("fill","#000").text("Index");
  const n=d3.max(yTicks[k],t=>String(t).length);
  g.append("text").attr("transform",`translate(${-(n*6.67+24)},${AH/2}) rotate(-90)`).attr("text-anchor","middle").attr("dominant-baseline","central").attr("font-family",MONO).attr("font-size",FS).attr("fill","#000").text("Values");
  const LW=133,LH=42,I=6.67,place=legendPlaces[k];
  const lx=place.endsWith("right")?AW-LW-I:place.endsWith("center")?(AW-LW)/2:I;
  const ly=place.startsWith("upper")?I:place.startsWith("lower")?AH-LH-I:(AH-LH)/2;
  const lg=g.append("g").attr("transform",`translate(${lx},${ly})`);
  lg.append("rect").attr("width",LW).attr("height",LH).attr("rx",2.5).attr("fill","#fff").attr("fill-opacity",.8).attr("stroke","#ccc").attr("stroke-width",1.07);
  lg.append("circle").attr("cx",18.7).attr("cy",12).attr("r",R).attr("fill",colors[k]).attr("fill-opacity",.6);
  lg.append("circle").attr("cx",18.7).attr("cy",30.6).attr("r",R).attr("fill",colors[k]).attr("fill-opacity",.3).attr("stroke","#000").attr("stroke-width",1.33).attr("stroke-opacity",.3);
  ["Original","Interpolated"].forEach((t,i)=>lg.append("text").attr("x",i?45:43.5).attr("y",i?35.2:16.5).attr("font-family",MONO).attr("font-size",FS).attr("fill","#000").text(t));
});
</script></body></html>
